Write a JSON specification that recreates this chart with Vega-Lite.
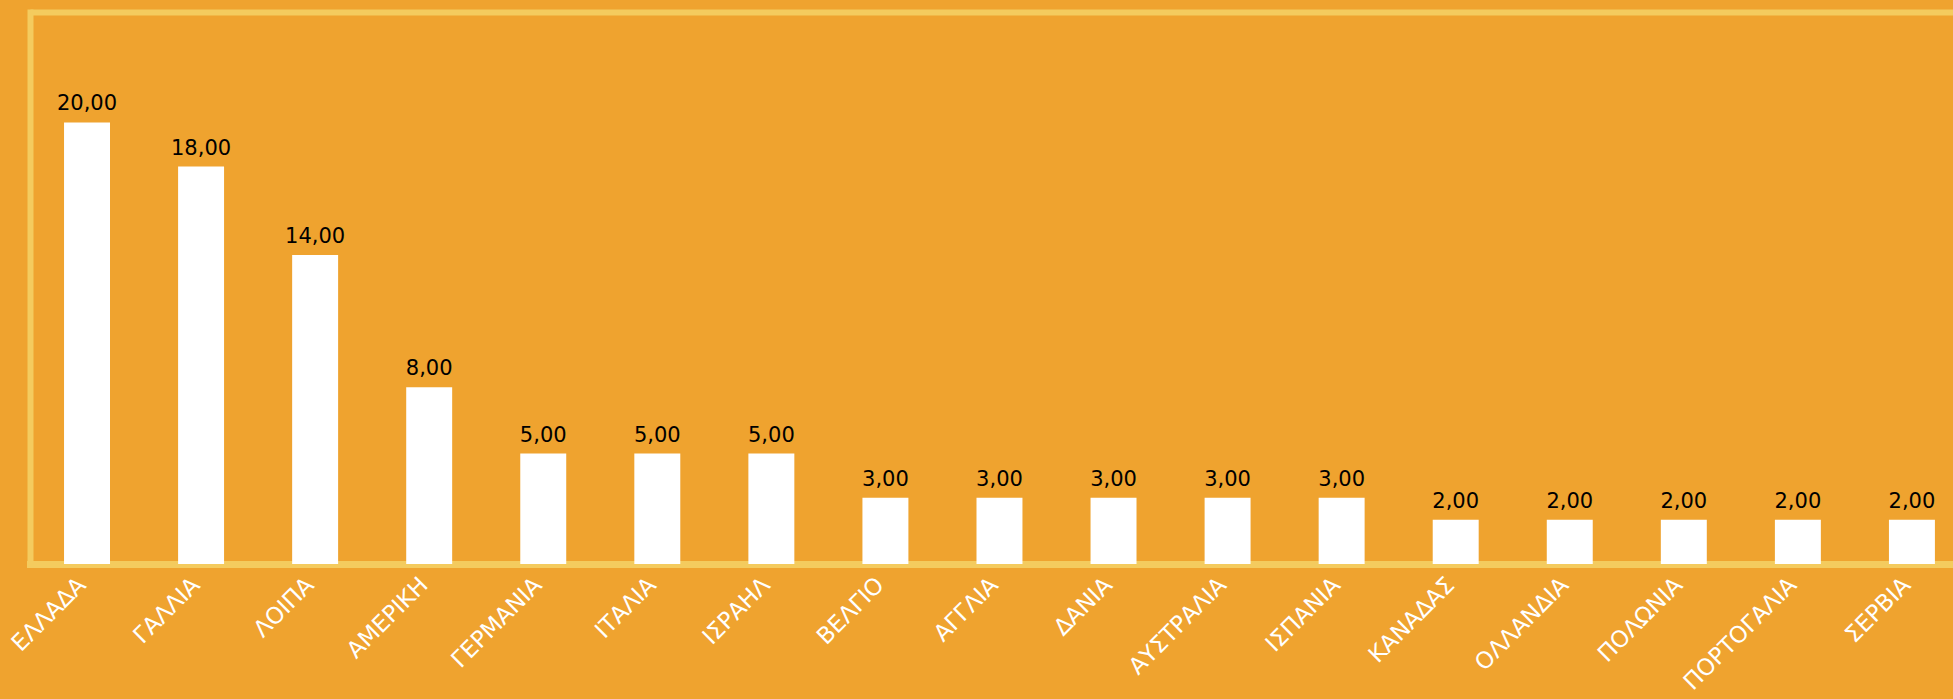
{
  "$schema": "https://vega.github.io/schema/vega-lite/v6.json",
  "width": 1923,
  "height": 552,
  "autosize": "none",
  "padding": {"left": 30, "top": 12, "right": 0, "bottom": 135},
  "background": "#EFA32F",
  "config": {
    "view": {"stroke": null},
    "locale": {"number": {"decimal": ",", "thousands": ".", "grouping": [3], "currency": ["", " €"]}}
  },
  "data": {
    "values": [
      {"country": "ΕΛΛΑΔΑ", "value": 20},
      {"country": "ΓΑΛΛΙΑ", "value": 18},
      {"country": "ΛΟΙΠΑ", "value": 14},
      {"country": "ΑΜΕΡΙΚΗ", "value": 8},
      {"country": "ΓΕΡΜΑΝΙΑ", "value": 5},
      {"country": "ΙΤΑΛΙΑ", "value": 5},
      {"country": "ΙΣΡΑΗΛ", "value": 5},
      {"country": "ΒΕΛΓΙΟ", "value": 3},
      {"country": "ΑΓΓΛΙΑ", "value": 3},
      {"country": "ΔΑΝΙΑ", "value": 3},
      {"country": "ΑΥΣΤΡΑΛΙΑ", "value": 3},
      {"country": "ΙΣΠΑΝΙΑ", "value": 3},
      {"country": "ΚΑΝΑΔΑΣ", "value": 2},
      {"country": "ΟΛΛΑΝΔΙΑ", "value": 2},
      {"country": "ΠΟΛΩΝΙΑ", "value": 2},
      {"country": "ΠΟΡΤΟΓΑΛΙΑ", "value": 2},
      {"country": "ΣΕΡΒΙΑ", "value": 2}
    ]
  },
  "encoding": {
    "x": {
      "field": "country",
      "type": "nominal",
      "sort": null,
      "scale": {"paddingInner": 0.597, "paddingOuter": 0.2285, "align": 0.653},
      "axis": {
        "title": null,
        "ticks": false,
        "labelAngle": -45,
        "labelAlign": "right",
        "labelBaseline": "alphabetic",
        "labelColor": "white",
        "labelFont": "DejaVu Sans",
        "labelFontSize": 23,
        "labelPadding": 22,
        "labelLimit": 400,
        "labelOverlap": false,
        "domainColor": "#F4CB5E",
        "domainWidth": 7,
        "domainCap": "square"
      }
    },
    "y": {
      "field": "value",
      "type": "quantitative",
      "scale": {"domain": [0, 25]},
      "axis": {
        "title": null,
        "values": [25],
        "grid": true,
        "gridColor": "#F4CB5E",
        "gridWidth": 6,
        "gridOpacity": 1,
        "labels": false,
        "ticks": false,
        "domainColor": "#F4CB5E",
        "domainWidth": 6,
        "domainCap": "square"
      }
    }
  },
  "layer": [
    {"mark": {"type": "bar", "color": "white", "opacity": 1}},
    {
      "mark": {"type": "text", "dy": -12, "baseline": "alphabetic", "font": "DejaVu Sans", "fontSize": 21, "color": "black"},
      "encoding": {"text": {"field": "value", "type": "quantitative", "format": ".2f"}}
    }
  ]
}
